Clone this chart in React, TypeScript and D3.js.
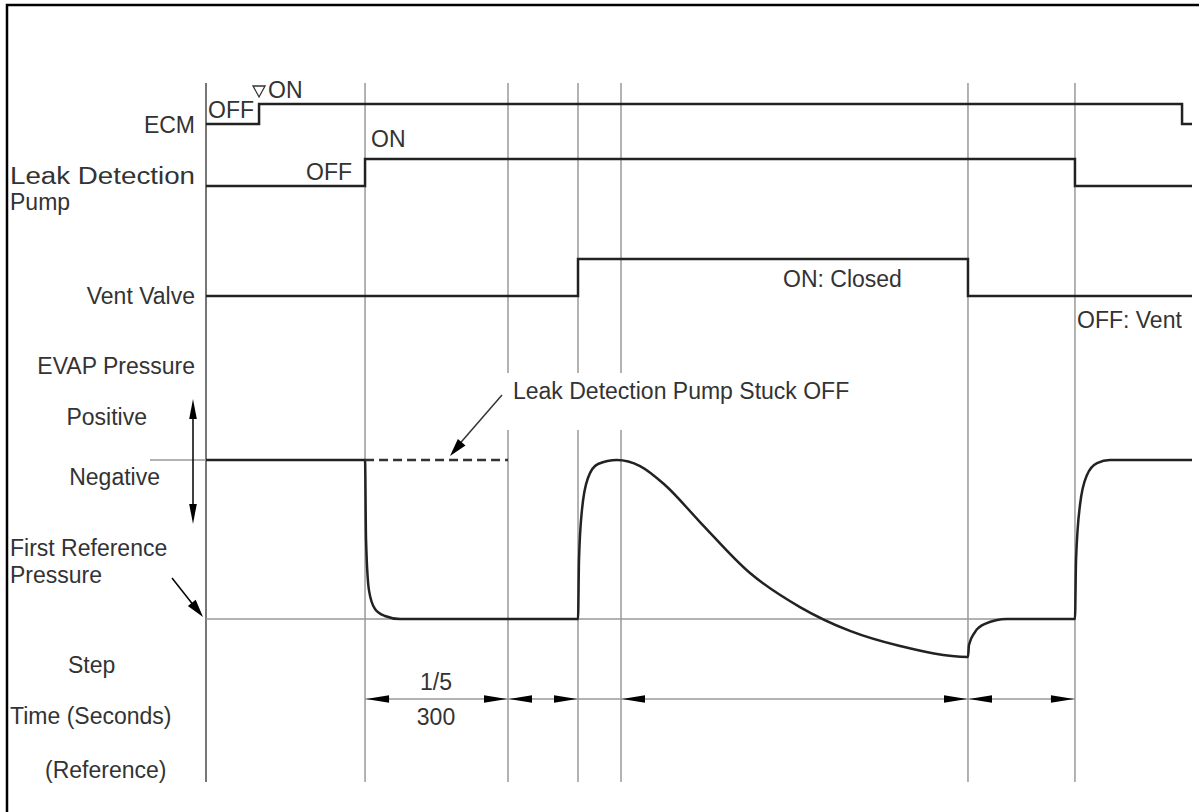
import React from "react";
import * as d3 from "d3";

// ---- data (time in % of the time span, levels normalised) ----
const gridTimes = [0, 16.13, 30.63, 37.73, 42.09, 77.28, 88.13];
const brokenGrid = [30.63, 37.73, 42.09];

const ecmT = [0, 5.38, 5.38, 98.99, 98.99, 100];
const ecmLevel = [0, 0, 1, 1, 0, 0];
const pumpT = [0, 16.13, 16.13, 88.13, 88.13, 100];
const pumpLevel = [0, 0, 1, 1, 0, 0];
const ventT = [0, 37.73, 37.73, 77.28, 77.28, 100];
const ventLevel = [0, 0, 1, 1, 0, 0];

const evapT = [0, 16.13, 16.23, 16.53, 17.14, 18.15, 19.68, 37.73, 37.83, 38.13, 38.74, 39.76, 41.68, 44.02, 46.55, 50.1, 55.17, 60.24, 65.31, 70.39, 77.28, 77.38, 77.99, 79.0, 81.24, 88.13, 88.24, 88.64, 89.35, 90.37, 91.68, 100];
const evapP = [1, 1, 0.5, 0.18, 0.063, 0.019, 0, 0, 0.371, 0.686, 0.887, 0.975, 1, 0.962, 0.843, 0.61, 0.289, 0.075, -0.075, -0.17, -0.239, -0.164, -0.082, -0.031, 0, 0, 0.371, 0.717, 0.906, 0.981, 1, 1];

const stuckT = [16.13, 30.63];
const stuckP = [1, 1];

const dimStart = [16.13, 30.63, 42.09, 77.28];
const dimEnd = [30.63, 37.73, 77.28, 88.13];

const FONT = "'Liberation Sans', Arial, sans-serif";
const TXT = "#333";
const LINE = "#222";
const GRID = "#999";

export default function App() {
  const x = d3.scaleLinear().domain([0, 100]).range([206, 1192]);
  const yEcm = d3.scaleLinear().domain([0, 1]).range([124, 104]);
  const yPump = d3.scaleLinear().domain([0, 1]).range([186, 159]);
  const yVent = d3.scaleLinear().domain([0, 1]).range([296, 259]);
  const yP = d3.scaleLinear().domain([0, 1]).range([619, 460]);

  const step = (ts: number[], ls: number[], y: d3.ScaleLinear<number, number>) =>
    d3.line<number>().x((_, i) => x(ts[i])).y((_, i) => y(ls[i]))(ts.map((_, i) => i)) || "";

  const evapPath =
    d3
      .line<number>()
      .x((_, i) => x(evapT[i]))
      .y((_, i) => yP(evapP[i]))
      .curve(d3.curveMonotoneX)(evapT.map((_, i) => i)) || "";
  const stuckPath = step(stuckT, stuckP, yP);

  const dimY = 699;
  const arrowR = (tip: number, y: number, len = 23, h = 3.8) =>
    `M${tip},${y} L${tip - len},${y - h} L${tip - len},${y + h} Z`;
  const arrowL = (tip: number, y: number, len = 23, h = 3.8) =>
    `M${tip},${y} L${tip + len},${y - h} L${tip + len},${y + h} Z`;

  const head = (x1: number, y1: number, x2: number, y2: number, len = 18, w = 4) => {
    const a = Math.atan2(y2 - y1, x2 - x1);
    const bx = x2 - len * Math.cos(a);
    const by = y2 - len * Math.sin(a);
    const px = -Math.sin(a) * w;
    const py = Math.cos(a) * w;
    return `M${x2},${y2} L${bx + px},${by + py} L${bx - px},${by - py} Z`;
  };

  const ecmOnX = x(ecmT[1]);

  return (
    <svg
      width={1199}
      height={812}
      style={{ position: "absolute", left: 0, top: 0, background: "#fff" }}
      fontFamily={FONT}
    >
      <rect x={0} y={0} width={1199} height={812} fill="#fff" />
      {/* frame */}
      <path d="M7,812 L7,5 L1199,5" fill="none" stroke="#000" strokeWidth={2.5} />

      {/* grid lines */}
      {gridTimes.map((t, i) =>
        brokenGrid.includes(t) ? (
          <g key={i}>
            <line x1={x(t)} x2={x(t)} y1={83} y2={373} stroke={GRID} strokeWidth={1.5} />
            <line x1={x(t)} x2={x(t)} y1={430} y2={782} stroke={GRID} strokeWidth={1.5} />
          </g>
        ) : (
          <line key={i} x1={x(t)} x2={x(t)} y1={83} y2={782} stroke={i === 0 ? "#777" : GRID} strokeWidth={i === 0 ? 2 : 1.5} />
        )
      )}

      {/* reference horizontal lines */}
      <line x1={150} x2={x(16.13)} y1={yP(1)} y2={yP(1)} stroke={GRID} strokeWidth={1.5} />
      <line x1={x(0)} x2={x(88.13)} y1={yP(0)} y2={yP(0)} stroke={GRID} strokeWidth={1.5} />
      <line x1={x(dimStart[0])} x2={x(dimEnd[dimEnd.length - 1])} y1={dimY} y2={dimY} stroke={GRID} strokeWidth={1.5} />

      {/* signals */}
      <path d={step(ecmT, ecmLevel, yEcm)} fill="none" stroke={LINE} strokeWidth={2.5} />
      <path d={step(pumpT, pumpLevel, yPump)} fill="none" stroke={LINE} strokeWidth={2.5} />
      <path d={step(ventT, ventLevel, yVent)} fill="none" stroke={LINE} strokeWidth={2.5} />
      <path d={evapPath} fill="none" stroke={LINE} strokeWidth={2.5} />
      <path d={stuckPath} fill="none" stroke="#333" strokeWidth={2.5} strokeDasharray="9,5" />

      {/* dimension arrows */}
      {dimStart.map((t, i) => (
        <g key={i} fill="#000">
          <path d={arrowL(x(t) + 1, dimY)} />
          <path d={arrowR(x(dimEnd[i]) - 1, dimY)} />
        </g>
      ))}

      {/* positive / negative arrow */}
      <line x1={193} x2={193} y1={405} y2={518} stroke="#000" strokeWidth={1.5} />
      <path d={head(193, 430, 193, 399, 20, 3.8)} fill="#000" />
      <path d={head(193, 490, 193, 524, 20, 3.8)} fill="#000" />

      {/* first reference pointer */}
      <line x1={172} x2={198} y1={578} y2={611} stroke="#000" strokeWidth={1.5} />
      <path d={head(172, 578, 203, 617, 18, 5)} fill="#000" />

      {/* stuck OFF pointer */}
      <line x1={502} x2={456} y1={395} y2={448} stroke="#333" strokeWidth={1.5} />
      <path d={head(502, 395, 450, 456, 18, 5)} fill="#000" />

      {/* ECM ON marker */}
      <path
        d={`M${ecmOnX - 6},${86} L${ecmOnX + 6},${86} L${ecmOnX},${97} Z`}
        fill="none"
        stroke="#333"
        strokeWidth={1.3}
      />

      <g fill={TXT} fontSize={23}>
        {/* left labels */}
        <text x={195} y={133} textAnchor="end">ECM</text>
        <text x={10} y={184} textLength={185} lengthAdjust="spacingAndGlyphs">Leak Detection</text>
        <text x={10} y={210}>Pump</text>
        <text x={195} y={304} textAnchor="end">Vent Valve</text>
        <text x={195} y={374} textAnchor="end">EVAP Pressure</text>
        <text x={147} y={425} textAnchor="end">Positive</text>
        <text x={160} y={485} textAnchor="end">Negative</text>
        <text x={10} y={556}>First Reference</text>
        <text x={10} y={583}>Pressure</text>
        <text x={68} y={673}>Step</text>
        <text x={10} y={724}>Time (Seconds)</text>
        <text x={45} y={778}>(Reference)</text>

        {/* state labels */}
        <text x={208} y={118}>OFF</text>
        <text x={268} y={98}>ON</text>
        <text x={352} y={180} textAnchor="end">OFF</text>
        <text x={371} y={147}>ON</text>
        <text x={783} y={287}>ON: Closed</text>
        <text x={1077} y={328}>OFF: Vent</text>
        <text x={513} y={399}>Leak Detection Pump Stuck OFF</text>
        <text x={436} y={690} textAnchor="middle">1/5</text>
        <text x={436} y={725} textAnchor="middle">300</text>
      </g>
    </svg>
  );
}
